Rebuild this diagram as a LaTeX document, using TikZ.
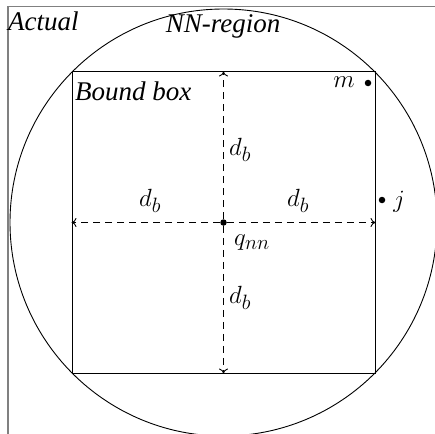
\documentclass[tikz,border=0pt]{standalone}
\usepackage[no-math]{fontspec}
\setmainfont{Liberation Serif}
\usetikzlibrary{arrows.meta}
\begin{document}
\begin{tikzpicture}[x=1pt,y=-1pt,
  lbl/.style={font=\fontsize{27}{30}\selectfont\itshape, inner sep=0pt},
  mlbl/.style={font=\fontsize{29}{32}\selectfont, inner sep=0pt},
  dline/.style={dashed, dash pattern=on 7pt off 5pt, line width=0.9pt, -{To[length=5pt,width=9pt]}},
  pt/.style={circle, fill=black, inner sep=0pt, minimum size=6.5pt}]
\useasboundingbox (0,0) rectangle (435,433);
\draw[gray, line width=1.5pt] (8,440) -- (8,6.5) -- (440,6.5);
\node[draw, line width=1pt, minimum width=303pt, minimum height=301pt, inner sep=0pt] (box) at (223.5,222.5) {};
\node[pt] (q) at (box.center) {};
\draw[line width=0.9pt] (q.center) circle (213.5pt);
\draw[dline] (q) -- (box.north);
\draw[dline] (q) -- (box.south);
\draw[dline] (q) -- (box.west);
\draw[dline] (q) -- (box.east);
\node[lbl, anchor=base west] (actual) at (8,31) {Actual};
\node[lbl, anchor=base] (nn) at (223,33) {NN-region};
\node[lbl, anchor=base west] (bb) at (75,100) {Bound box};
\node[mlbl] (m) at (344,82) {$m$};
\node[pt] (mdot) at (368,83) {};
\node[pt] (jdot) at (382,200) {};
\node[mlbl] (j) at (399,202) {$j$};
\node[mlbl] (dt) at (240,150) {$d_b$};
\node[mlbl] (dl) at (150,201) {$d_b$};
\node[mlbl] (dr) at (298,201) {$d_b$};
\node[mlbl] (dbt) at (240,298) {$d_b$};
\node[mlbl] (qnn) at (252,243) {$q_{nn}$};
\end{tikzpicture}
\end{document}
